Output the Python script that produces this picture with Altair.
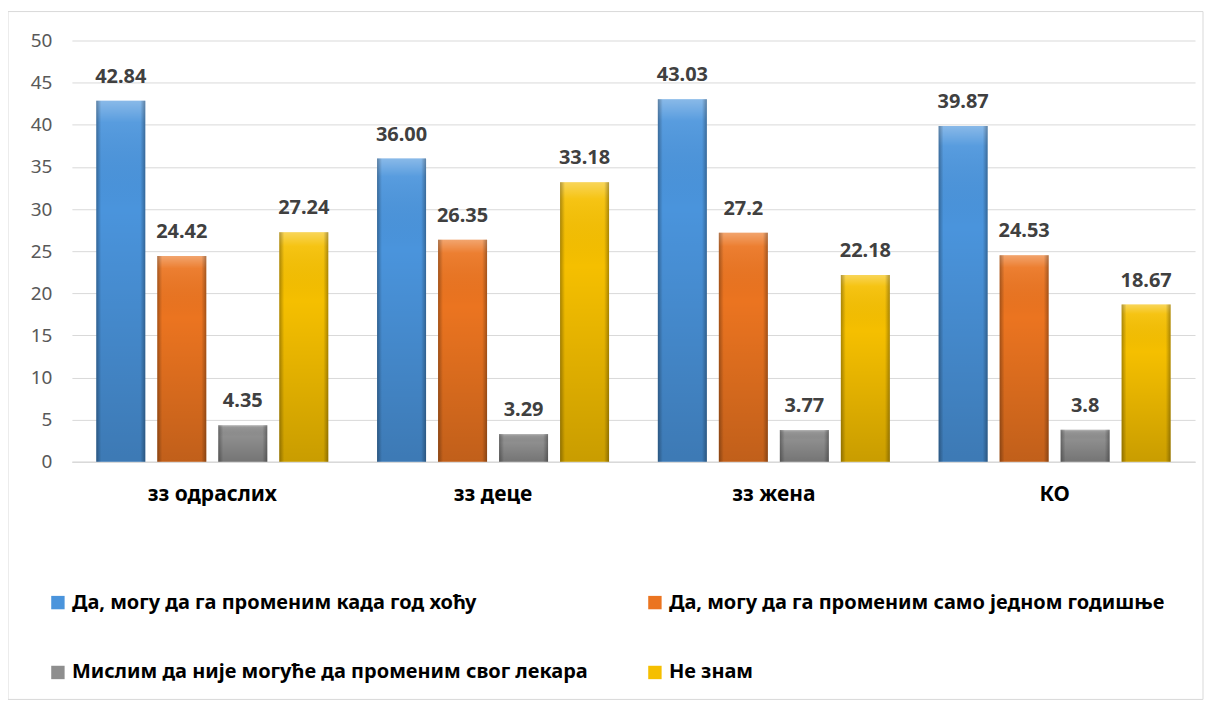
import altair as alt
import pandas as pd

groups = ["зз одраслих", "зз деце", "зз жена", "КО"]
series = [
    "Да, могу да га променим када год хоћу",
    "Да, могу да га променим само једном годишње",
    "Мислим да није могуће да променим свог лекара",
    "Не знам",
]
colors = ["#4A94DC", "#EB7420", "#8E8E8E", "#F5BF00"]

vals_s1 = [42.84, 36.00, 43.03, 39.87]
vals_s2 = [24.42, 26.35, 27.2, 24.53]
vals_s3 = [4.35, 3.29, 3.77, 3.8]
vals_s4 = [27.24, 33.18, 22.18, 18.67]

labels_s1 = ["42.84", "36.00", "43.03", "39.87"]
labels_s2 = ["24.42", "26.35", "27.2", "24.53"]
labels_s3 = ["4.35", "3.29", "3.77", "3.8"]
labels_s4 = ["27.24", "33.18", "22.18", "18.67"]

y_ticks = [0, 5, 10, 15, 20, 25, 30, 35, 40, 45, 50]

# legend is filled column by column: blue, gray | orange, yellow
legend_order = [0, 2, 1, 3]
legend_domain = [series[i] for i in legend_order]
legend_range = [colors[i] for i in legend_order]

rows = []
for s, vals, labs in zip(series, [vals_s1, vals_s2, vals_s3, vals_s4],
                         [labels_s1, labels_s2, labels_s3, labels_s4]):
    for g, v, l in zip(groups, vals, labs):
        rows.append({"group": g, "series": s, "value": v, "label": l})
df = pd.DataFrame(rows)

FONT = "Noto Sans"

x_enc = alt.X("group:N", sort=groups, title=None,
              scale=alt.Scale(paddingInner=0, paddingOuter=0),
              axis=alt.Axis(labelAngle=0, labelFontSize=21, labelFontWeight="bold",
                            labelColor="#000000", labelFont=FONT, ticks=False,
                            labelPadding=22, domainColor="#D9D9D9", domainWidth=1.5))
xo_enc = alt.XOffset("series:N", sort=series,
                     scale=alt.Scale(domain=series, paddingInner=0.197, paddingOuter=0.40))
y_enc = alt.Y("value:Q", title=None,
              scale=alt.Scale(domain=[0, 50], nice=False),
              axis=alt.Axis(values=y_ticks, labelFontSize=19, labelColor="#595959",
                            labelFont=FONT, ticks=False, domain=False,
                            gridColor="#D9D9D9", gridWidth=1, labelPadding=20))

base = alt.Chart(df)

bars = base.mark_bar().encode(
    x=x_enc, xOffset=xo_enc, y=y_enc,
    color=alt.Color("series:N",
                    scale=alt.Scale(domain=legend_domain, range=legend_range),
                    legend=alt.Legend(orient="none", legendX=-24, legendY=553,
                                      columns=2, title=None, symbolType="square",
                                      symbolSize=180, symbolStrokeWidth=0,
                                      symbolOpacity=1,
                                      labelFontSize=20, labelFont=FONT,
                                      labelFontWeight="bold", labelColor="#000000",
                                      labelLimit=900, columnPadding=56,
                                      rowPadding=50, padding=0, labelOffset=4)),
)

shade_v = base.mark_bar(
    fill=alt.LinearGradient(
        gradient="linear", x1=0, x2=0, y1=0, y2=1,
        stops=[alt.GradientStop(color="rgba(255,255,255,0.35)", offset=0),
               alt.GradientStop(color="rgba(255,255,255,0.08)", offset=0.06),
               alt.GradientStop(color="rgba(0,0,0,0.0)", offset=0.3),
               alt.GradientStop(color="rgba(0,0,0,0.18)", offset=1)])
).encode(x=x_enc, xOffset=xo_enc, y=y_enc)

shade_h = base.mark_bar(
    fill=alt.LinearGradient(
        gradient="linear", x1=0, x2=1, y1=0, y2=0,
        stops=[alt.GradientStop(color="rgba(0,0,0,0.30)", offset=0),
               alt.GradientStop(color="rgba(0,0,0,0.0)", offset=0.1),
               alt.GradientStop(color="rgba(0,0,0,0.0)", offset=0.9),
               alt.GradientStop(color="rgba(0,0,0,0.30)", offset=1)])
).encode(x=x_enc, xOffset=xo_enc, y=y_enc)

text = base.mark_text(baseline="alphabetic", dy=-18, fontSize=20, font=FONT,
                      fontWeight="bold", color="#404040").encode(
    x=x_enc, xOffset=xo_enc, y=y_enc, text="label:N")

frame = alt.Chart(pd.DataFrame({"a": [0]})).mark_rect(
    fillOpacity=0, stroke="#D9D9D9", strokeWidth=1).encode(
    x=alt.value(-64), x2=alt.value(1133), y=alt.value(-29), y2=alt.value(660))

chart = alt.layer(frame, bars, shade_v, shade_h, text).properties(
    width=1125, height=422,
    autosize=alt.AutoSizeParams(type="none"),
    padding={"left": 64, "top": 32, "right": 10, "bottom": 238},
).configure_view(stroke=None)

chart.save("out.html", embed_options={"renderer": "svg", "actions": False})
